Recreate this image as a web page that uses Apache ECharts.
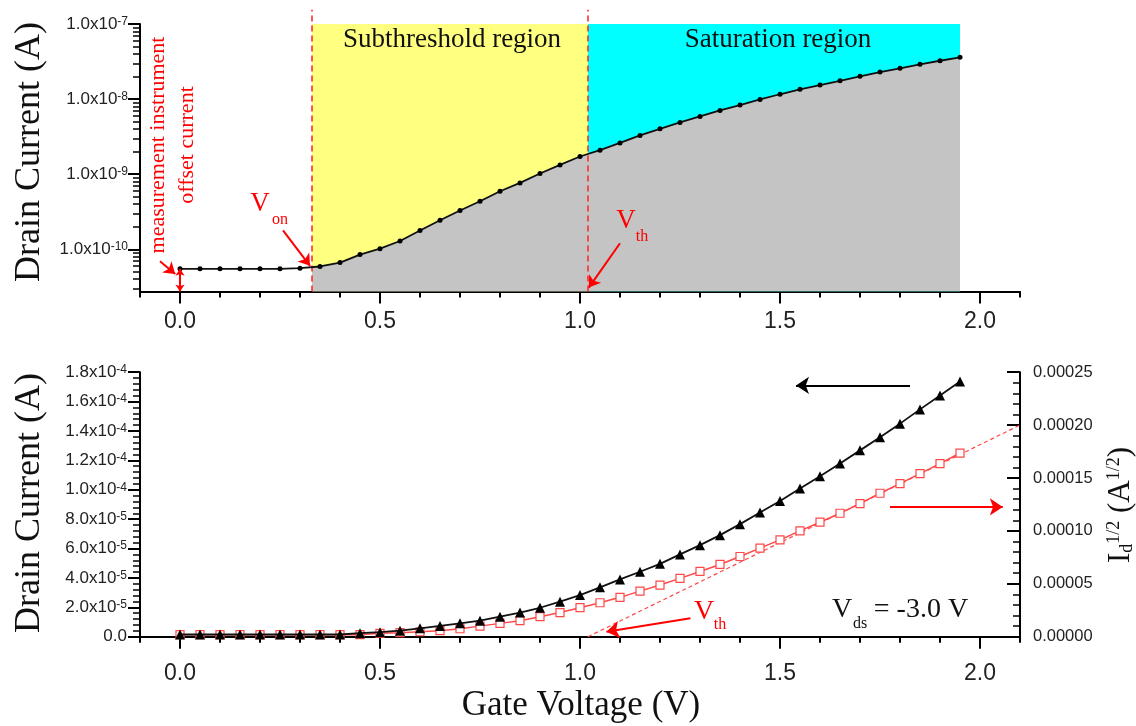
<!DOCTYPE html>
<html><head><meta charset="utf-8">
<script src="https://cdn.jsdelivr.net/npm/echarts@6/dist/echarts.min.js"></script>
<style>html,body{margin:0;padding:0;background:#fff}#c{width:1136px;height:726px}</style>
</head><body><div id="c"></div>
<script>
// ---------- data ----------
const gateV = [0,0.05,0.1,0.15,0.2,0.25,0.3,0.35,0.4,0.45,0.5,0.55,0.6,0.65,0.7,0.75,0.8,0.85,0.9,0.95,
  1.0,1.05,1.1,1.15,1.2,1.25,1.3,1.35,1.4,1.45,1.5,1.55,1.6,1.65,1.7,1.75,1.8,1.85,1.9,1.95];
const topCurrent = [5.5e-11,5.5e-11,5.5e-11,5.5e-11,5.5e-11,5.5e-11,5.6e-11,5.9e-11,6.65e-11,8.5e-11,
  1.02e-10,1.29e-10,1.78e-10,2.44e-10,3.28e-10,4.36e-10,5.93e-10,7.66e-10,1.02e-9,1.33e-9,
  1.72e-9,2.09e-9,2.61e-9,3.28e-9,4.02e-9,4.89e-9,5.87e-9,7.07e-9,8.32e-9,9.9e-9,
  1.16e-8,1.35e-8,1.54e-8,1.75e-8,2.01e-8,2.29e-8,2.57e-8,2.9e-8,3.24e-8,3.6e-8];
const drainCurrent = [1.5e-6,1.5e-6,1.5e-6,1.5e-6,1.5e-6,1.5e-6,1.5e-6,1.5e-6,1.5e-6,2.4e-6,
  3.1e-6,4.1e-6,5.7e-6,7.3e-6,9.1e-6,1.09e-5,1.36e-5,1.64e-5,1.97e-5,2.38e-5,
  2.83e-5,3.36e-5,3.9e-5,4.42e-5,4.96e-5,5.6e-5,6.23e-5,6.91e-5,7.66e-5,8.45e-5,
  9.24e-5,1.008e-4,1.092e-4,1.178e-4,1.268e-4,1.358e-4,1.45e-4,1.547e-4,1.642e-4,1.737e-4];
const sqrtCurrent = [1.9e-6,1.9e-6,1.9e-6,1.9e-6,1.9e-6,1.9e-6,1.9e-6,1.9e-6,1.9e-6,1.9e-6,
  3.2e-6,3.8e-6,4.7e-6,5.7e-6,7.5e-6,1.0e-5,1.26e-5,1.51e-5,1.89e-5,2.28e-5,
  2.74e-5,3.21e-5,3.72e-5,4.31e-5,4.88e-5,5.51e-5,6.17e-5,6.83e-5,7.58e-5,8.37e-5,
  9.15e-5,1.0e-4,1.082e-4,1.167e-4,1.258e-4,1.356e-4,1.447e-4,1.542e-4,1.636e-4,1.736e-4];
const fitV = [1.02, 2.1];
const fitSqrt = [0, 0.0002];
const vOn = 0.33;
const vTh = 1.02;
const xTickLabels = [0, 0.5, 1.0, 1.5, 2.0];
const topDecades = [-10, -9, -8, -7];

// ---------- helpers ----------
const SERIF = "'Liberation Serif','Times New Roman',serif";
const SANS = "'Liberation Sans',Arial,sans-serif";
const lg = v => Math.log10(v);
const topMin = lg(2.74e-11), topMax = -7, topExt = -6.81;
const xMin = -0.1, xMax = 2.1;

const xMinor = [];
for (let i = -1; i <= 21; i++) { if (i % 5 !== 0) xMinor.push(i / 10); }
const topMinor = [];
for (let n = -11; n <= -8; n++) for (let k = 2; k <= 9; k++) {
  const v = n + Math.log10(k); if (v >= topMin && v <= topMax) topMinor.push(v);
}

const topData = gateV.map((v, i) => [v, lg(topCurrent[i])]);
// gray fill begins at V_on, boundary value taken from the measured curve
let grayData = [];
for (let i = 1; i < gateV.length; i++) {
  if (gateV[i - 1] <= vOn && gateV[i] > vOn) {
    const t = (vOn - gateV[i - 1]) / (gateV[i] - gateV[i - 1]);
    grayData.push([vOn, topData[i - 1][1] + t * (topData[i][1] - topData[i - 1][1])]);
  }
  if (gateV[i] > vOn) grayData.push(topData[i]);
}
const vEnd = gateV[gateV.length - 1];

const axisLine = { show: true, onZero: false, lineStyle: { color: '#000', width: 2 } };
function sciLabel(v) {
  if (Math.abs(v) < 1e-12) return '{m|0.0}';
  const e = Math.floor(Math.log10(v) + 1e-9);
  const m = (v / Math.pow(10, e)).toFixed(1);
  return '{m|' + m + 'x10}{s|' + e + '}';
}
const sciRich = {
  m: { fontSize: 17, fontFamily: SANS, color: '#222', verticalAlign: 'bottom' },
  s: { fontSize: 12, fontFamily: SANS, color: '#222', verticalAlign: 'top' }
};

function xMain(grid, margin) {
  return { type: 'value', gridIndex: grid, min: xMin, max: xMax, position: 'bottom', axisLine,
    splitLine: { show: false },
    axisTick: { customValues: xTickLabels, length: 12, lineStyle: { color: '#000', width: 2 } },
    axisLabel: { customValues: xTickLabels, formatter: v => v.toFixed(1), fontSize: 23,
      fontFamily: SANS, color: '#222', margin } };
}
function xMinorAx(grid) {
  return { type: 'value', gridIndex: grid, min: xMin, max: xMax, position: 'bottom',
    axisLine: { show: false, onZero: false }, splitLine: { show: false }, axisLabel: { show: false },
    axisTick: { show: true, customValues: xMinor, length: 6, lineStyle: { color: '#000', width: 2 } } };
}

function arrow(p1, p2, color, width) {
  return [{ coord: p1, symbol: 'none', lineStyle: { color, width, type: 'solid' } },
          { coord: p2, symbol: 'arrow' }];
}
function txt(x, y, text, size, fill, rot) {
  const el = { type: 'text', x, y, z: 100, style: { text, font: size + 'px ' + SERIF, fill,
    align: 'center', verticalAlign: 'middle' } };
  if (rot) el.rotation = Math.PI / 2;
  return el;
}

const chart = echarts.init(document.getElementById('c'));
const option = {
  animation: false,
  backgroundColor: '#fff',
  grid: [
    { left: 140, right: 116, top: 24, height: 267.5 },
    { left: 140, right: 116, top: 372.2, height: 264.5 }
  ],
  xAxis: [ xMain(0, 19), xMinorAx(0), xMain(1, 25), xMinorAx(1) ],
  yAxis: [
    { type: 'value', gridIndex: 0, position: 'left', min: topMin, max: topMax, axisLine, splitLine: { show: false },
      axisTick: { customValues: topDecades, length: 12, lineStyle: { color: '#000', width: 2 } },
      axisLabel: { customValues: topDecades, margin: 12,
        formatter: v => '{m|1.0x10}{s|' + Math.round(v) + '}', rich: sciRich } },
    { type: 'value', gridIndex: 0, position: 'left', min: topMin, max: topMax,
      axisLine: { show: false, onZero: false },
      splitLine: { show: false }, axisLabel: { show: false },
      axisTick: { show: true, customValues: topMinor, length: 7, lineStyle: { color: '#000', width: 1.5 } } },
    { type: 'value', gridIndex: 1, position: 'left', min: 0, max: 1.8e-4, interval: 2e-5, axisLine,
      splitLine: { show: false },
      axisTick: { length: 12, lineStyle: { color: '#000', width: 2 } },
      minorTick: { show: true, splitNumber: 5, length: 7, lineStyle: { color: '#000', width: 1.5 } },
      axisLabel: { margin: 13, formatter: sciLabel, rich: sciRich } },
    { type: 'value', gridIndex: 1, position: 'right', min: 0, max: 0.00025, interval: 0.00005,
      axisLine, splitLine: { show: false },
      axisTick: { inside: true, length: 13, lineStyle: { color: '#000', width: 2 } },
      minorTick: { show: true, splitNumber: 5, length: 7, lineStyle: { color: '#000', width: 1.5 } },
      axisLabel: { margin: 13, formatter: v => v.toFixed(5), fontSize: 16.5, fontFamily: SANS, color: '#222' } }
  ],
  series: [
    { type: 'line', xAxisIndex: 0, yAxisIndex: 0, data: [[vOn, topMax], [vTh, topMax]], symbol: 'none',
      lineStyle: { width: 0, opacity: 0 }, areaStyle: { color: '#FFFF80', opacity: 1, origin: 'start' }, silent: true, z: 1 },
    { type: 'line', xAxisIndex: 0, yAxisIndex: 0, data: [[vTh, topMax], [vEnd, topMax]], symbol: 'none',
      lineStyle: { width: 0, opacity: 0 }, areaStyle: { color: '#00FFFF', opacity: 1, origin: 'start' }, silent: true, z: 1 },
    { type: 'line', xAxisIndex: 0, yAxisIndex: 0, data: grayData, symbol: 'none',
      lineStyle: { width: 0, opacity: 0 }, areaStyle: { color: '#C4C4C4', opacity: 1, origin: 'start' }, silent: true, z: 2 },
    { type: 'line', xAxisIndex: 0, yAxisIndex: 0, data: [[vOn, topMin], [vOn, topExt]], symbol: 'none', clip: false,
      lineStyle: { color: '#F22', width: 1.5, type: [6, 4] }, silent: true, z: 3 },
    { type: 'line', xAxisIndex: 0, yAxisIndex: 0, data: [[vTh, topMin], [vTh, topExt]], symbol: 'none', clip: false,
      lineStyle: { color: '#F22', width: 1.5, type: [6, 4] }, silent: true, z: 3 },
    { type: 'line', xAxisIndex: 0, yAxisIndex: 0, data: topData, symbol: 'circle', symbolSize: 5,
      itemStyle: { color: '#000' }, lineStyle: { color: '#111', width: 1.8 }, silent: true, z: 4 },
    { type: 'line', xAxisIndex: 0, yAxisIndex: 0, data: [], clip: false, silent: true, z: 5,
      markLine: { silent: true, symbol: ['none', 'arrow'], symbolSize: 11, label: { show: false },
        animation: false,
        data: [
          arrow([-0.05, -10.16], [-0.012, -10.33], '#F00', 2),
          arrow([0.2575, -9.747], [0.325, -10.22], '#F00', 2),
          arrow([1.1, -9.92], [1.022, -10.51], '#F00', 2),
          [{ coord: [0, lg(topCurrent[0])], symbol: 'arrow', symbolSize: 7, lineStyle: { color: '#F00', width: 2, type: 'solid' } },
           { coord: [0, topMin], symbol: 'arrow', symbolSize: 7 }]
        ] } },
    // bottom chart
    { type: 'line', xAxisIndex: 2, yAxisIndex: 3, data: fitV.map((v, i) => [v, fitSqrt[i]]), symbol: 'none',
      lineStyle: { color: '#FF4848', width: 1.2, type: [4, 3] }, silent: true, z: 2 },
    { type: 'line', xAxisIndex: 2, yAxisIndex: 3, data: gateV.map((v, i) => [v, sqrtCurrent[i]]),
      symbol: 'rect', symbolSize: 8, itemStyle: { color: '#fff', borderColor: '#FF4848', borderWidth: 1.2 },
      lineStyle: { color: '#FF4848', width: 1.5 }, silent: true, z: 3 },
    { type: 'line', xAxisIndex: 2, yAxisIndex: 2, data: gateV.map((v, i) => [v, drainCurrent[i]]),
      symbol: 'triangle', symbolSize: 10, itemStyle: { color: '#000' },
      lineStyle: { color: '#111', width: 1.8 }, silent: true, z: 4 },
    { type: 'line', xAxisIndex: 2, yAxisIndex: 2, data: [], clip: false, silent: true, z: 5,
      markLine: { silent: true, symbol: ['none', 'arrow'], symbolSize: 13, label: { show: false },
        animation: false,
        data: [
          arrow([1.825, 1.71e-4], [1.54, 1.71e-4], '#000', 2),
          arrow([1.775, 8.83e-5], [2.057, 8.83e-5], '#F00', 2),
          arrow([1.276, 1.25e-5], [1.066, 3.4e-6], '#F00', 2)
        ] } }
  ],
  graphic: [
    txt(30, 152, 'Drain Current (A)', 36, '#111', true),
    txt(30, 503, 'Drain Current (A)', 36, '#111', true),
    txt(581, 706, 'Gate Voltage (V)', 35, '#111'),
    { type: 'text', x: 1121, y: 505, z: 100, rotation: Math.PI / 2, style: {
        text: '{b|I}{sub|d}{sup|1/2}{b| (A}{sup|1/2}{b|)}', align: 'center', verticalAlign: 'middle',
        rich: { b: { font: '31px ' + SERIF, fill: '#111', verticalAlign: 'middle' },
                sub: { font: '18px ' + SERIF, fill: '#111', verticalAlign: 'bottom' },
                sup: { font: '18px ' + SERIF, fill: '#111', verticalAlign: 'top' } } } },
    txt(452, 40, 'Subthreshold region', 27, '#111'),
    txt(778, 40, 'Saturation region', 27, '#111'),
    txt(158, 145, 'measurement instrument', 22, '#F00', true),
    txt(187, 145, 'offset current', 22, '#F00', true),
    txt(260, 204, 'V', 27, '#F00'),
    txt(280, 220, 'on', 16, '#F00'),
    txt(626, 221, 'V', 27, '#F00'),
    txt(642, 237, 'th', 16, '#F00'),
    txt(704, 612, 'V', 28, '#F00'),
    txt(720, 625, 'th', 16, '#F00'),
    txt(842, 610, 'V', 28, '#111'),
    txt(860, 624, 'ds', 16, '#111'),
    txt(921, 610, '= -3.0 V', 28, '#111')
  ]
};
chart.setOption(option);
</script>
</body></html>
